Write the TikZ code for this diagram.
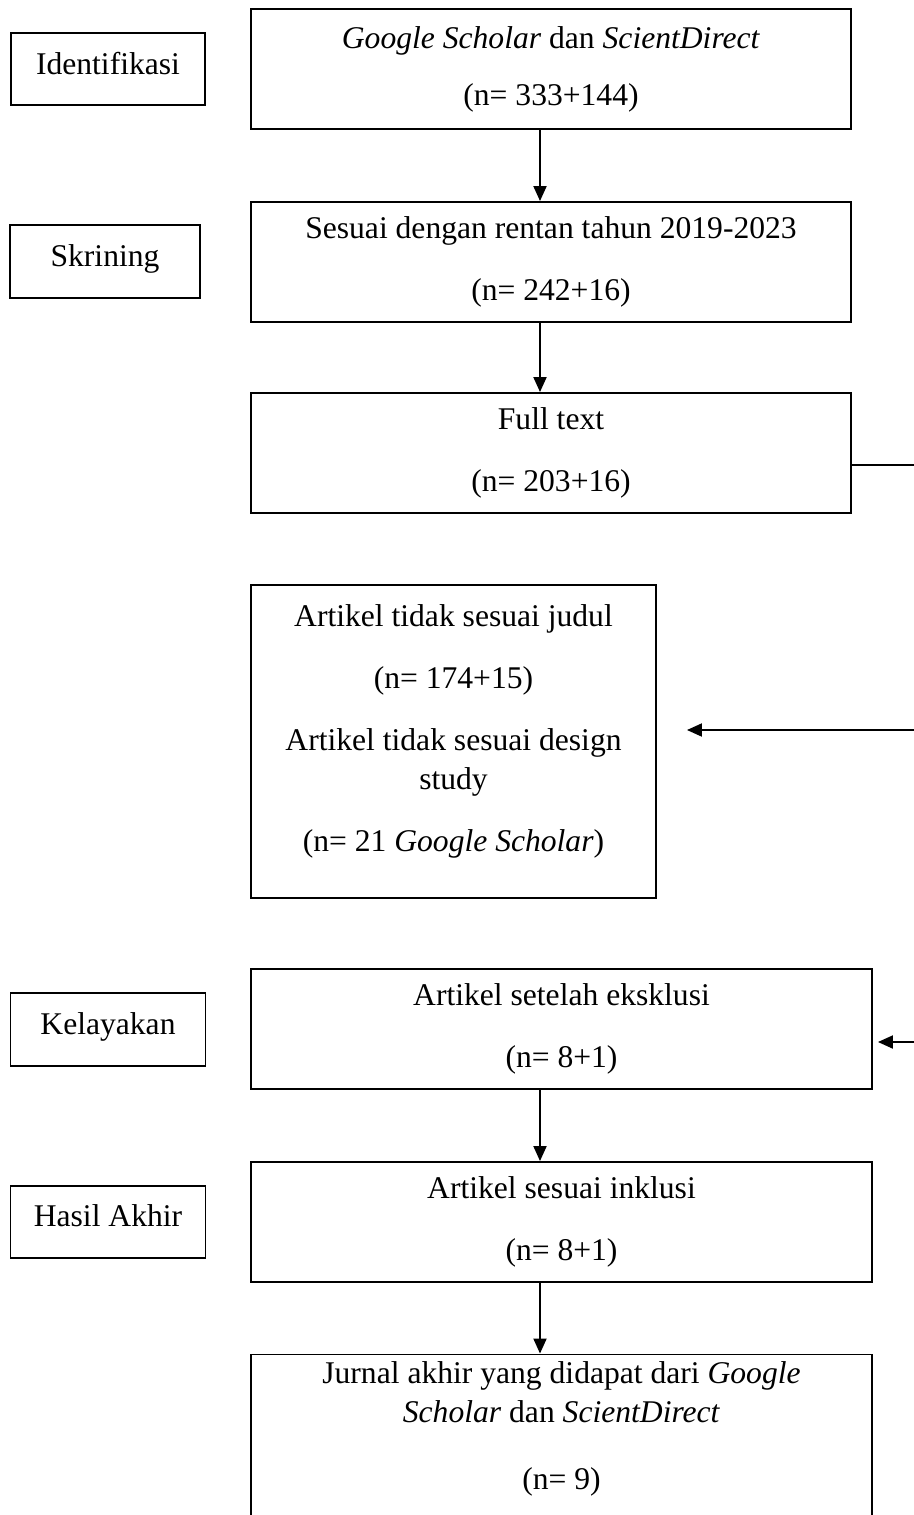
\documentclass[tikz,border=0pt]{standalone}
\usepackage{fontspec}
\setmainfont{Liberation Serif}
\usetikzlibrary{arrows.meta}
\newcommand\boxfont{\fontsize{15.8pt}{19.5pt}\selectfont}
\begin{document}
\begin{tikzpicture}[x=0.5pt,y=-0.5pt,
  box/.style={draw,line width=0.95pt,inner sep=0pt,align=center,font=\boxfont},
  arr/.style={line width=0.95pt,-{Triangle[length=7.5pt,width=6.5pt]}},
  ln/.style={line width=0.95pt}]
\clip (0,0) rectangle (914,1515);
\fill[white] (0,0) rectangle (914,1515);
% stage labels
\node[box,minimum width=97pt,minimum height=36pt] (id) at (108,69) {Identifikasi\rule[-6pt]{0pt}{0pt}};
\node[box,minimum width=95pt,minimum height=36.5pt] (sk) at (105,261.5) {Skrining\rule[-6pt]{0pt}{0pt}};
\node[box,minimum width=97.5pt,minimum height=36.5pt] (ke) at (108,1029.5) {Kelayakan\rule[-6pt]{0pt}{0pt}};
\node[box,minimum width=97.5pt,minimum height=36pt] (ha) at (108,1222) {Hasil Akhir\rule[-6pt]{0pt}{0pt}};
% main boxes
\node[box,minimum width=300pt,minimum height=60pt] (b1) at (551,69)
  {\textit{Google Scholar} dan \textit{ScientDirect}\\[9pt](n= 333+144)};
\node[box,minimum width=300pt,minimum height=60pt] (b2) at (551,262)
  {Sesuai dengan rentan tahun 2019-2023\\[11.5pt](n= 242+16)};
\node[box,minimum width=300pt,minimum height=60pt] (b3) at (551,453)
  {Full text\\[11.5pt](n= 203+16)};
\node[box,minimum width=202.5pt,minimum height=156.5pt] (b4) at (453.5,741.5)
  {Artikel tidak sesuai judul\\[11.5pt](n= 174+15)\\[11.5pt]Artikel tidak sesuai design\\study\\[11.5pt](n= 21 \textit{Google Scholar})\rule[-13pt]{0pt}{0pt}};
\node[box,minimum width=310.5pt,minimum height=60pt] (b5) at (561.5,1029)
  {Artikel setelah eksklusi\\[11.5pt](n= 8+1)};
\node[box,minimum width=310.5pt,minimum height=60pt] (b6) at (561.5,1222)
  {Artikel sesuai inklusi\\[11.5pt](n= 8+1)};
\node[box,minimum width=310.5pt,minimum height=103pt] (b7) at (561.5,1457.5)
  {Jurnal akhir yang didapat dari \textit{Google}\\\textit{Scholar} dan \textit{ScientDirect}\\[14pt](n= 9)\rule[-32pt]{0pt}{0pt}};
% connector helpers
\coordinate (ax) at (540,0);
\coordinate (r1) at (914,465);
\coordinate (r2) at (914,730);
\coordinate (r3) at (914,1042);
% connectors
\draw[arr] (b1.south -| ax) -- (b2.north -| ax);
\draw[arr] (b2.south -| ax) -- (b3.north -| ax);
\draw[arr] (b5.south -| ax) -- (b6.north -| ax);
\draw[arr] (b6.south -| ax) -- (b7.north -| ax);
\draw[ln] (b3.east |- r1) -- (r1);
\draw[arr,shorten >=15pt] (r2) -- (b4.east |- r2);
\draw[arr,shorten >=2.5pt] (r3) -- (b5.east |- r3);
\end{tikzpicture}
\end{document}
